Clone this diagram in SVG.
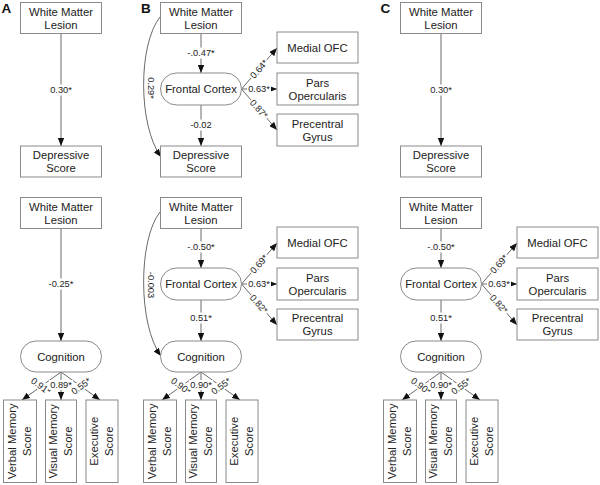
<svg xmlns="http://www.w3.org/2000/svg" width="600" height="485" viewBox="0 0 600 485">
<defs>
<marker id="ah" viewBox="0 0 10 8" refX="10" refY="4" markerWidth="8" markerHeight="6.5" markerUnits="userSpaceOnUse" orient="auto"><path d="M0,0 L10,4 L0,8 z" fill="#111"/></marker>
<style>
.box{fill:#fff;stroke:#8a8a8a;stroke-width:1}
.nt{font-family:"Liberation Sans",Arial,sans-serif;font-size:11.3px;fill:#222;text-anchor:middle}
.el{font-family:"Liberation Sans",Arial,sans-serif;font-size:9.3px;fill:#222;text-anchor:middle}
.lb{fill:#fff}
.cn{fill:none;stroke:#6a6a6a;stroke-width:1;marker-end:url(#ah)}
.pl{font-family:"Liberation Sans",Arial,sans-serif;font-size:13.5px;font-weight:bold;fill:#111}
</style>
</defs>
<rect width="600" height="485" fill="#fff"/>
<text class="pl" x="1.5" y="12.5">A</text>
<text class="pl" x="141" y="12.5">B</text>
<text class="pl" x="380.5" y="12.5">C</text>

<g id="connectors">
<!-- A -->
<path class="cn" d="M61,33.5 V146"/>
<path class="cn" d="M61,228.5 V341"/>
<path class="cn" d="M61,372 L22,400"/>
<path class="cn" d="M61,372 V400"/>
<path class="cn" d="M61,372 L100,400"/>
<!-- B top -->
<path class="cn" d="M201,33.5 V73"/>
<path class="cn" d="M201,105 V146"/>
<path class="cn" d="M160,17 C138,45 138,125 161,157"/>
<path class="cn" d="M241.5,89 L277,48"/>
<path class="cn" d="M241.5,89 H277"/>
<path class="cn" d="M241.5,89 L277,130"/>
<!-- B bottom -->
<path class="cn" d="M201,228.5 V268"/>
<path class="cn" d="M201,300 V341"/>
<path class="cn" d="M160,212 C138,240 138,325 161,356"/>
<path class="cn" d="M241.5,284 L277,243"/>
<path class="cn" d="M241.5,284 H277"/>
<path class="cn" d="M241.5,284 L277,325"/>
<path class="cn" d="M201,372 L162,400"/>
<path class="cn" d="M201,372 V400"/>
<path class="cn" d="M201,372 L240,400"/>
<!-- C -->
<path class="cn" d="M441,33.5 V146"/>
<path class="cn" d="M441,228.5 V268"/>
<path class="cn" d="M441,300 V341"/>
<path class="cn" d="M481.5,284 L517,243"/>
<path class="cn" d="M481.5,284 H517"/>
<path class="cn" d="M481.5,284 L517,325"/>
<path class="cn" d="M441,372 L402,400"/>
<path class="cn" d="M441,372 V400"/>
<path class="cn" d="M441,372 L480,400"/>

<!-- labels -->
<g transform="translate(61,90)"><rect class="lb" x="-12" y="-5.5" width="24" height="11"/><text class="el" y="3.3">0.30*</text></g>
<g transform="translate(61,284)"><rect class="lb" x="-13.5" y="-5.5" width="27" height="11"/><text class="el" y="3.3">-0.25*</text></g>
<g transform="translate(41,386) rotate(36)"><rect class="lb" x="-12" y="-5" width="24" height="10"/><text class="el" y="3.3">0.91*</text></g>
<g transform="translate(61,385)"><rect class="lb" x="-12" y="-5" width="24" height="10"/><text class="el" y="3.3">0.89*</text></g>
<g transform="translate(81,386) rotate(-36)"><rect class="lb" x="-12" y="-5" width="24" height="10"/><text class="el" y="3.3">0.55*</text></g>

<g transform="translate(201,53)"><rect class="lb" x="-14.5" y="-5.5" width="29" height="11"/><text class="el" y="3.3">-.0.47*</text></g>
<g transform="translate(201,125)"><rect class="lb" x="-12" y="-5.5" width="24" height="11"/><text class="el" y="3.3">-0.02</text></g>
<g transform="translate(151,88) rotate(90)"><rect class="lb" x="-12" y="-5" width="24" height="10"/><text class="el" y="3.3">0.29*</text></g>
<g transform="translate(259,69) rotate(-48.7)"><rect class="lb" x="-12" y="-5" width="24" height="10"/><text class="el" y="3.3">0.64*</text></g>
<g transform="translate(259,89)"><rect class="lb" x="-12" y="-5" width="24" height="10"/><text class="el" y="3.3">0.63*</text></g>
<g transform="translate(259,109) rotate(48.7)"><rect class="lb" x="-12" y="-5" width="24" height="10"/><text class="el" y="3.3">0.87*</text></g>

<g transform="translate(201,247)"><rect class="lb" x="-14.5" y="-5.5" width="29" height="11"/><text class="el" y="3.3">-.0.50*</text></g>
<g transform="translate(201,318)"><rect class="lb" x="-12" y="-5.5" width="24" height="11"/><text class="el" y="3.3">0.51*</text></g>
<g transform="translate(151,285) rotate(90)"><rect class="lb" x="-14" y="-5" width="28" height="10"/><text class="el" y="3.3">-0.003</text></g>
<g transform="translate(259,264) rotate(-48.7)"><rect class="lb" x="-12" y="-5" width="24" height="10"/><text class="el" y="3.3">0.69*</text></g>
<g transform="translate(259,284)"><rect class="lb" x="-12" y="-5" width="24" height="10"/><text class="el" y="3.3">0.63*</text></g>
<g transform="translate(259,304) rotate(48.7)"><rect class="lb" x="-12" y="-5" width="24" height="10"/><text class="el" y="3.3">0.82*</text></g>
<g transform="translate(181,386) rotate(36)"><rect class="lb" x="-12" y="-5" width="24" height="10"/><text class="el" y="3.3">0.90*</text></g>
<g transform="translate(201,385)"><rect class="lb" x="-12" y="-5" width="24" height="10"/><text class="el" y="3.3">0.90*</text></g>
<g transform="translate(221,386) rotate(-36)"><rect class="lb" x="-12" y="-5" width="24" height="10"/><text class="el" y="3.3">0.55*</text></g>

<g transform="translate(441,90)"><rect class="lb" x="-12" y="-5.5" width="24" height="11"/><text class="el" y="3.3">0.30*</text></g>
<g transform="translate(441,247)"><rect class="lb" x="-14.5" y="-5.5" width="29" height="11"/><text class="el" y="3.3">-.0.50*</text></g>
<g transform="translate(441,318)"><rect class="lb" x="-12" y="-5.5" width="24" height="11"/><text class="el" y="3.3">0.51*</text></g>
<g transform="translate(499,264) rotate(-48.7)"><rect class="lb" x="-12" y="-5" width="24" height="10"/><text class="el" y="3.3">0.69*</text></g>
<g transform="translate(499,284)"><rect class="lb" x="-12" y="-5" width="24" height="10"/><text class="el" y="3.3">0.63*</text></g>
<g transform="translate(499,304) rotate(48.7)"><rect class="lb" x="-12" y="-5" width="24" height="10"/><text class="el" y="3.3">0.82*</text></g>
<g transform="translate(421,386) rotate(36)"><rect class="lb" x="-12" y="-5" width="24" height="10"/><text class="el" y="3.3">0.90*</text></g>
<g transform="translate(441,385)"><rect class="lb" x="-12" y="-5" width="24" height="10"/><text class="el" y="3.3">0.90*</text></g>
<g transform="translate(461,386) rotate(-36)"><rect class="lb" x="-12" y="-5" width="24" height="10"/><text class="el" y="3.3">0.55*</text></g>
</g>

<!-- Panel A nodes -->
<g id="A-wml-top"><rect class="box" x="20.5" y="2.5" width="81" height="31"/><text class="nt" x="61" y="15.5">White Matter</text><text class="nt" x="61" y="28.5">Lesion</text></g>
<g id="A-dep"><rect class="box" x="20.5" y="146" width="81" height="31"/><text class="nt" x="61" y="159">Depressive</text><text class="nt" x="61" y="172">Score</text></g>
<g id="A-wml-bot"><rect class="box" x="20.5" y="197.5" width="81" height="31"/><text class="nt" x="61" y="210.5">White Matter</text><text class="nt" x="61" y="223.5">Lesion</text></g>
<g id="A-cog"><rect class="box" x="20.5" y="341" width="81" height="31" rx="15.5"/><text class="nt" x="61" y="360.5">Cognition</text></g>
<g id="A-verbal"><rect class="box" x="3.5" y="400" width="33" height="82.5"/><g transform="translate(20,441.25) rotate(-90)"><text class="nt" y="-4">Verbal Memory</text><text class="nt" y="11">Score</text></g></g>
<g id="A-visual"><rect class="box" x="45.5" y="400" width="31" height="82.5"/><g transform="translate(61,441.25) rotate(-90)"><text class="nt" y="-4">Visual Memory</text><text class="nt" y="11">Score</text></g></g>
<g id="A-exec"><rect class="box" x="86" y="400" width="32" height="82.5"/><g transform="translate(102,441.25) rotate(-90)"><text class="nt" y="-4">Executive</text><text class="nt" y="11">Score</text></g></g>

<!-- Panel B nodes -->
<g id="B-wml-top"><rect class="box" x="160.5" y="2.5" width="81" height="31"/><text class="nt" x="201" y="15.5">White Matter</text><text class="nt" x="201" y="28.5">Lesion</text></g>
<g id="B-fc-top"><rect class="box" x="160.5" y="73" width="81" height="32" rx="16"/><text class="nt" x="201" y="93">Frontal Cortex</text></g>
<g id="B-dep"><rect class="box" x="160.5" y="146" width="81" height="31"/><text class="nt" x="201" y="159">Depressive</text><text class="nt" x="201" y="172">Score</text></g>
<g id="B-mofc-top"><rect class="box" x="277" y="32" width="81" height="31"/><text class="nt" x="317.5" y="51.5">Medial OFC</text></g>
<g id="B-pars-top"><rect class="box" x="277" y="73" width="81" height="32"/><text class="nt" x="317.5" y="86.5">Pars</text><text class="nt" x="317.5" y="99.5">Opercularis</text></g>
<g id="B-prec-top"><rect class="box" x="277" y="114" width="81" height="32"/><text class="nt" x="317.5" y="127.5">Precentral</text><text class="nt" x="317.5" y="140.5">Gyrus</text></g>

<g id="B-wml-bot"><rect class="box" x="160.5" y="197.5" width="81" height="31"/><text class="nt" x="201" y="210.5">White Matter</text><text class="nt" x="201" y="223.5">Lesion</text></g>
<g id="B-fc-bot"><rect class="box" x="160.5" y="268" width="81" height="32" rx="16"/><text class="nt" x="201" y="288">Frontal Cortex</text></g>
<g id="B-cog"><rect class="box" x="160.5" y="341" width="81" height="31" rx="15.5"/><text class="nt" x="201" y="360.5">Cognition</text></g>
<g id="B-mofc-bot"><rect class="box" x="277" y="227" width="81" height="31"/><text class="nt" x="317.5" y="246.5">Medial OFC</text></g>
<g id="B-pars-bot"><rect class="box" x="277" y="268" width="81" height="32"/><text class="nt" x="317.5" y="281.5">Pars</text><text class="nt" x="317.5" y="294.5">Opercularis</text></g>
<g id="B-prec-bot"><rect class="box" x="277" y="309" width="81" height="31"/><text class="nt" x="317.5" y="322">Precentral</text><text class="nt" x="317.5" y="335">Gyrus</text></g>
<g id="B-verbal"><rect class="box" x="143.5" y="400" width="33" height="82.5"/><g transform="translate(160,441.25) rotate(-90)"><text class="nt" y="-4">Verbal Memory</text><text class="nt" y="11">Score</text></g></g>
<g id="B-visual"><rect class="box" x="185.5" y="400" width="31" height="82.5"/><g transform="translate(201,441.25) rotate(-90)"><text class="nt" y="-4">Visual Memory</text><text class="nt" y="11">Score</text></g></g>
<g id="B-exec"><rect class="box" x="226" y="400" width="32" height="82.5"/><g transform="translate(242,441.25) rotate(-90)"><text class="nt" y="-4">Executive</text><text class="nt" y="11">Score</text></g></g>

<!-- Panel C nodes -->
<g id="C-wml-top"><rect class="box" x="400.5" y="2.5" width="81" height="31"/><text class="nt" x="441" y="15.5">White Matter</text><text class="nt" x="441" y="28.5">Lesion</text></g>
<g id="C-dep"><rect class="box" x="400.5" y="146" width="81" height="31"/><text class="nt" x="441" y="159">Depressive</text><text class="nt" x="441" y="172">Score</text></g>
<g id="C-wml-bot"><rect class="box" x="400.5" y="197.5" width="81" height="31"/><text class="nt" x="441" y="210.5">White Matter</text><text class="nt" x="441" y="223.5">Lesion</text></g>
<g id="C-fc"><rect class="box" x="400.5" y="268" width="81" height="32" rx="16"/><text class="nt" x="441" y="288">Frontal Cortex</text></g>
<g id="C-cog"><rect class="box" x="400.5" y="341" width="81" height="31" rx="15.5"/><text class="nt" x="441" y="360.5">Cognition</text></g>
<g id="C-mofc"><rect class="box" x="517" y="227" width="81" height="31"/><text class="nt" x="557.5" y="246.5">Medial OFC</text></g>
<g id="C-pars"><rect class="box" x="517" y="268" width="81" height="32"/><text class="nt" x="557.5" y="281.5">Pars</text><text class="nt" x="557.5" y="294.5">Opercularis</text></g>
<g id="C-prec"><rect class="box" x="517" y="309" width="81" height="31"/><text class="nt" x="557.5" y="322">Precentral</text><text class="nt" x="557.5" y="335">Gyrus</text></g>
<g id="C-verbal"><rect class="box" x="383.5" y="400" width="33" height="82.5"/><g transform="translate(400,441.25) rotate(-90)"><text class="nt" y="-4">Verbal Memory</text><text class="nt" y="11">Score</text></g></g>
<g id="C-visual"><rect class="box" x="425.5" y="400" width="31" height="82.5"/><g transform="translate(441,441.25) rotate(-90)"><text class="nt" y="-4">Visual Memory</text><text class="nt" y="11">Score</text></g></g>
<g id="C-exec"><rect class="box" x="466" y="400" width="32" height="82.5"/><g transform="translate(482,441.25) rotate(-90)"><text class="nt" y="-4">Executive</text><text class="nt" y="11">Score</text></g></g>
</svg>
